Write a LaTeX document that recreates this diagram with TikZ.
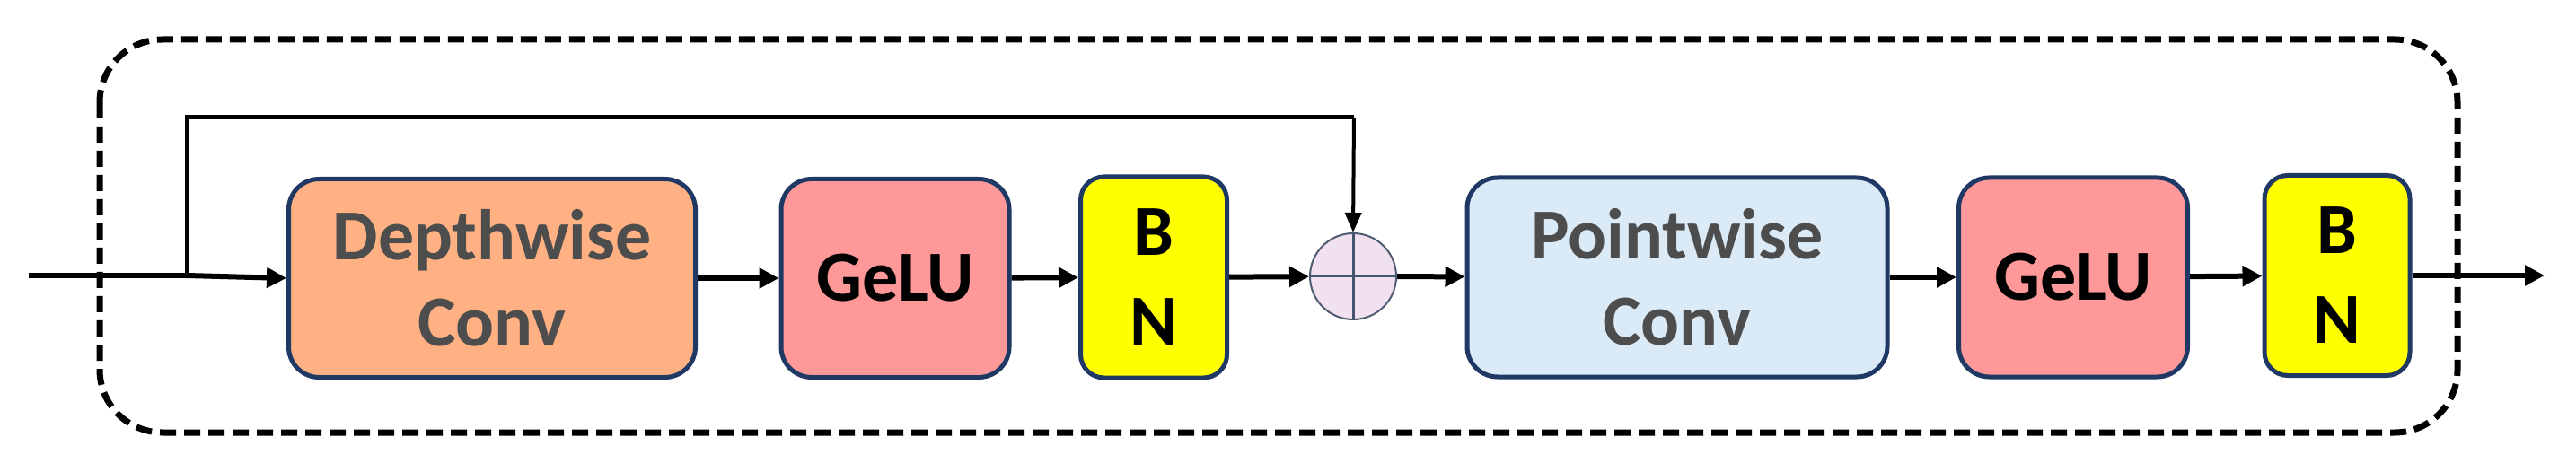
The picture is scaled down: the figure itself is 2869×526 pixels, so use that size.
\documentclass[tikz,border=0pt]{standalone}
\usepackage{fontspec}
\setmainfont{Carlito}
\usetikzlibrary{arrows.meta}
\definecolor{navy}{HTML}{1F3864}
\definecolor{orng}{HTML}{FFB183}
\definecolor{pnk}{HTML}{FF9999}
\definecolor{ylw}{HTML}{FFFF00}
\definecolor{lblue}{HTML}{DAEBF7}
\definecolor{txtg}{HTML}{4D4D4D}
\begin{document}
\begin{tikzpicture}[x=1pt,y=-1pt,
  blk/.style={draw=navy,line width=5pt,rounded corners=34pt,font=\fontsize{80}{96}\selectfont\bfseries,align=center,inner sep=0pt},
  conn/.style={line width=6pt,-{Triangle[length=22pt,width=22pt]}},
  thin/.style={line width=4pt,-{Triangle[length=22pt,width=18pt]}}]
\useasboundingbox (0,0) rectangle (2869,526);
\draw[line width=7pt,dash pattern=on 18pt off 9pt,rounded corners=70pt] (111,44) rectangle (2737,482);
\node[blk,fill=orng,text=txtg,minimum width=453pt,minimum height=221pt] (dw) at (548,310) {Depthwise\\Conv};
\node[blk,fill=pnk,minimum width=254pt,minimum height=221pt] (g1) at (997,310) {GeLU};
\node[blk,fill=ylw,minimum width=163pt,minimum height=224pt,rounded corners=26pt] (bn1) at (1285,309) {B\\[4pt]N};
\node[circle,draw=navy!50!gray,line width=2pt,fill=violet!12,minimum size=96pt,inner sep=0pt] (add) at (1507,308) {};
\draw[line width=3pt,navy!60!gray] (add.north) -- (add.south) (add.west) -- (add.east);
\node[blk,fill=lblue,text=txtg,minimum width=468pt,minimum height=222pt] (pw) at (1868,309) {Pointwise\\Conv};
\node[blk,fill=pnk,minimum width=255pt,minimum height=222pt] (g2) at (2309,309) {GeLU};
\node[blk,fill=ylw,minimum width=162pt,minimum height=223pt,rounded corners=26pt] (bn2) at (2603,307) {B\\[4pt]N};
\coordinate (in) at (32,307);
\coordinate (br) at (208,307);
\coordinate (out) at (2834,307);
\draw[line width=6pt] (in) -- (br);
\draw[conn] (br) -- (dw.west);
\draw[line width=5pt] (br) -- (208,131) -- (1508,131);
\draw[thin] (1508,131) -- (add.north);
\draw[conn] (dw) -- (g1);
\draw[conn] (g1) -- (bn1);
\draw[conn] (bn1) -- (add);
\draw[conn] (add) -- (pw);
\draw[conn] (pw) -- (g2);
\draw[conn] (g2) -- (bn2);
\draw[conn] (bn2) -- (out);
\end{tikzpicture}
\end{document}
